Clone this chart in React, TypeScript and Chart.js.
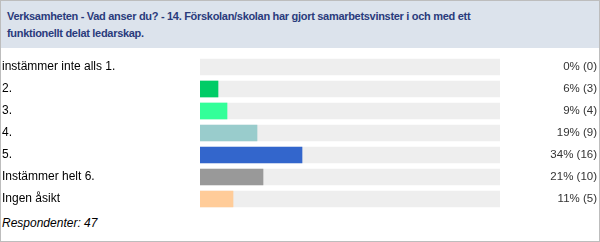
import React, { useEffect, useRef } from "react";
import { Chart, registerables } from "chart.js";

Chart.register(...registerables);

const title =
  "Verksamheten - Vad anser du? - 14. Förskolan/skolan har gjort samarbetsvinster i och med ett funktionellt delat ledarskap.";
const categories = [
  "instämmer inte alls 1.",
  "2.",
  "3.",
  "4.",
  "5.",
  "Instämmer helt 6.",
  "Ingen åsikt",
];
const percents = [0, 6, 9, 19, 34, 21, 11];
const counts = [0, 3, 4, 9, 16, 10, 5];
const valueLabels = percents.map((p, i) => `${p}% (${counts[i]})`);
const trackValues = categories.map(() => 100);
const barColors = ["#00cc66", "#00cc66", "#33ff99", "#99cccc", "#3366cc", "#999999", "#ffcc99"];
const respondents = 47;

export default function App() {
  const ref = useRef<HTMLCanvasElement>(null);
  useEffect(() => {
    document.body.style.margin = "0";
    const chart = new Chart(ref.current!, {
      type: "bar",
      data: {
        labels: categories,
        datasets: [
          {
            data: percents.map((v) => (v === 0 ? null : v)),
            backgroundColor: barColors,
            borderWidth: 0,
            barThickness: 16,
            grouped: false,
            order: 1,
          },
          {
            data: trackValues,
            backgroundColor: "#eeeeee",
            borderWidth: 0,
            barThickness: 16,
            grouped: false,
            order: 2,
          },
        ],
      },
      options: {
        indexAxis: "y",
        animation: false,
        responsive: false,
        maintainAspectRatio: false,
        layout: { padding: { left: 2, right: 3, top: 0, bottom: 0 } },
        plugins: { legend: { display: false }, tooltip: { enabled: false } },
        scales: {
          x: { min: 0, max: 100, display: false },
          y: {
            type: "category",
            position: "left",
            grid: { display: false },
            border: { display: false },
            ticks: {
              crossAlign: "far",
              color: "#000000",
              padding: 0,
              font: { family: "Liberation Sans", size: 12 },
            },
            afterFit: (s: any) => {
              s.width = 198;
              s.paddingTop = 0;
              s.paddingBottom = 0;
            },
          },
          y2: {
            type: "category",
            labels: valueLabels,
            position: "right",
            grid: { display: false },
            border: { display: false },
            ticks: {
              crossAlign: "far",
              color: "#333333",
              padding: 0,
              font: { family: "Liberation Sans", size: 11.5 },
            },
            afterFit: (s: any) => {
              s.width = 97;
              s.paddingTop = 0;
              s.paddingBottom = 0;
            },
          },
        },
      },
    });
    return () => chart.destroy();
  }, []);

  return (
    <div
      style={{
        position: "relative",
        width: 600,
        height: 242,
        boxSizing: "border-box",
        border: "1px solid #bdbdbd",
        background: "#ffffff",
        overflow: "hidden",
      }}
    >
      <div
        style={{
          position: "absolute",
          left: 0,
          top: 0,
          width: 598,
          height: 47,
          background: "#dce3ec",
          color: "#2a3b7c",
          fontFamily: "'Liberation Sans'",
          fontWeight: "bold",
          fontSize: 11,
          letterSpacing: "-0.3px",
          lineHeight: "17px",
          padding: "7px 100px 0 6px",
          boxSizing: "border-box",
        }}
      >
        {title}
      </div>
      <canvas
        ref={ref}
        width={600}
        height={154}
        style={{ position: "absolute", left: -1, top: 55, width: 600, height: 154 }}
      />
      <div
        style={{
          position: "absolute",
          left: 1,
          top: 215,
          fontFamily: "Liberation Sans",
          fontStyle: "italic",
          fontSize: 12,
          color: "#000000",
        }}
      >
        Respondenter: {respondents}
      </div>
    </div>
  );
}
